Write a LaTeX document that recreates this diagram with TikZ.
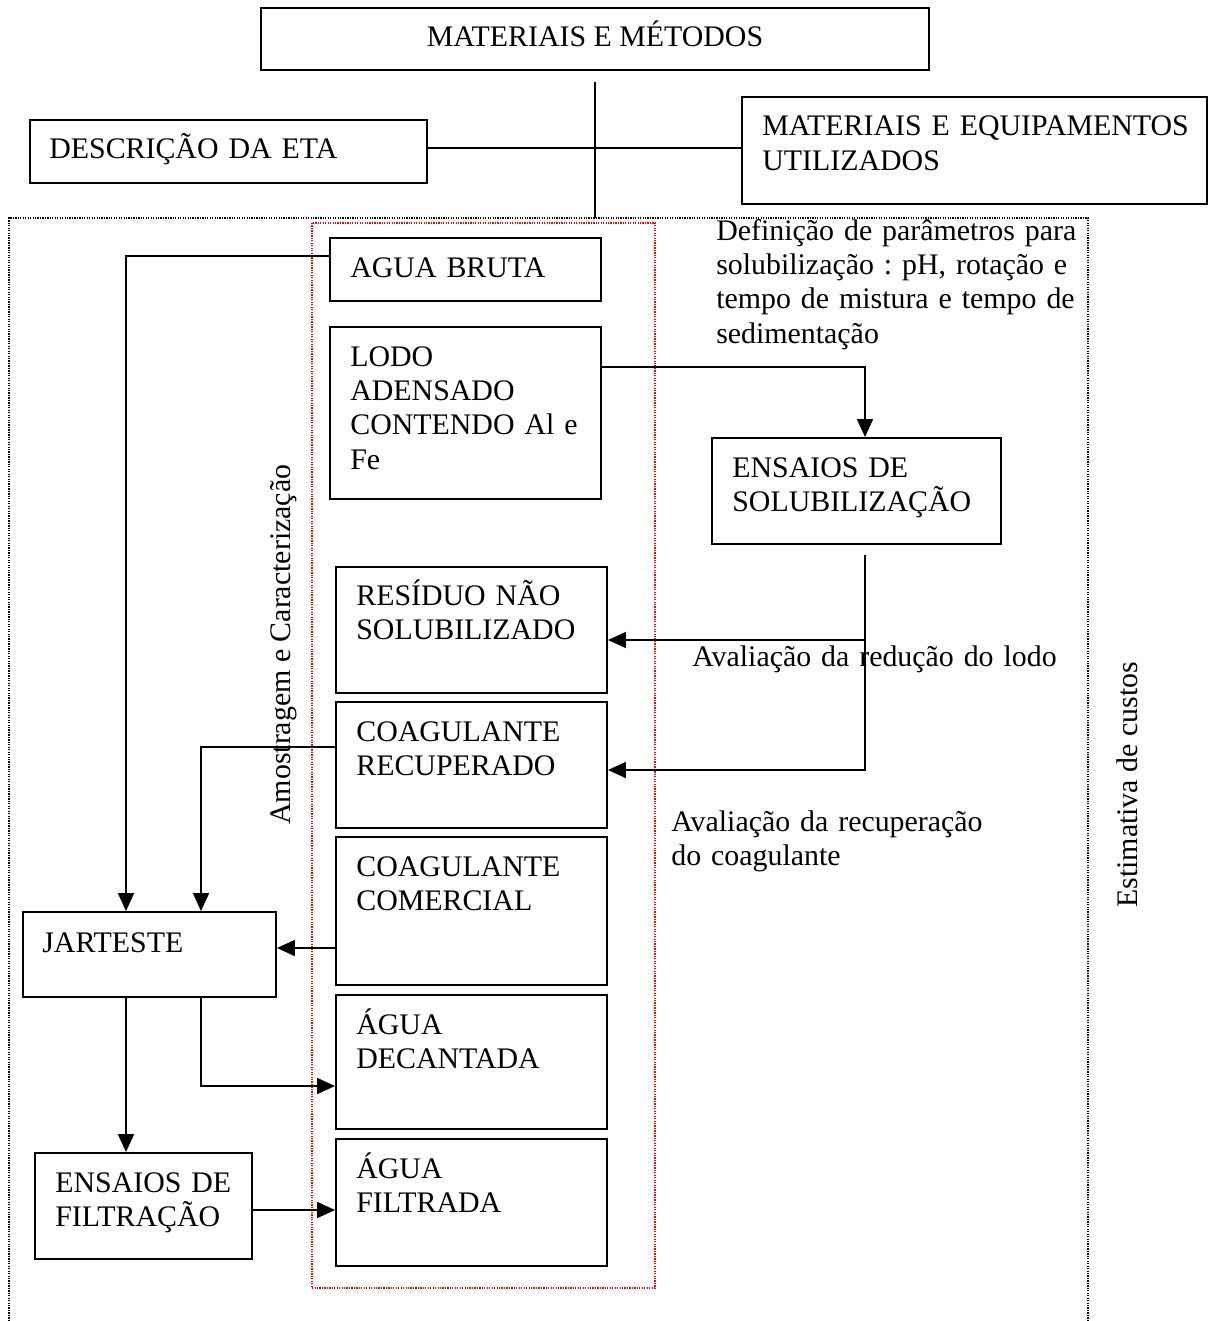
\documentclass[tikz,border=0pt]{standalone}
\usepackage{fontspec}
\setmainfont{Liberation Serif}
\usetikzlibrary{arrows.meta,fit}
\begin{document}
\begin{tikzpicture}[x=0.02cm,y=-0.02cm,
  font=\fontsize{17}{19.6}\selectfont\frenchspacing,
  box/.style={draw=black,line width=1.1pt,inner sep=0pt,fill=none},
  txt/.style={inner sep=0pt,anchor=base west,align=left,text width=12cm},
  ln/.style={line width=1.1pt},
  arr/.style={line width=1.1pt,-{Triangle[length=0.36cm,width=0.32cm]}},
  dots/.style={line width=0.7pt,dash pattern=on 0.7pt off 0.7pt}]
\useasboundingbox (0,0) rectangle (1209,1321);
% frames
\draw[dots] (9,1321) -- (9,218) -- (1088,218) -- (1088,1321);
\draw[dots,red] (312,223) rectangle (655,1288);
% top boxes
\node[box,fit={(261,8) (929,70)}] (mm) {};
\node[inner sep=0pt,anchor=base] (mmt) at (595,47) {MATERIAIS E MÉTODOS};
\node[box,fit={(30,120) (427,183)}] (desc) {};
\node[txt] (desct) at (49,159) {DESCRIÇÃO DA ETA};
\node[box,fit={(742,97) (1207,204)}] (meq) {};
\node[txt] (meqt) at (762,136) {MATERIAIS E EQUIPAMENTOS\\UTILIZADOS};
\coordinate (t1) at (595,82);
\coordinate (t2) at (595,218);
\draw[ln] (t1) -- (t2);
\draw[ln] (desc.east |- 0,148) -- (meq.west |- 0,148);
% inner column
\node[box,fit={(330,238) (601,301)}] (ab) {};
\node[txt] (abt) at (350,277) {AGUA BRUTA};
\node[box,fit={(330,327) (601,499)}] (lodo) {};
\node[txt] (lodot) at (350,366) {LODO\\ADENSADO\\CONTENDO Al e\\Fe};
\node[box,fit={(336,567) (607,693)}] (res) {};
\node[txt] (rest) at (356,605) {RESÍDUO NÃO\\SOLUBILIZADO};
\node[box,fit={(336,702) (607,828)}] (rec) {};
\node[txt] (rect) at (356,741) {COAGULANTE\\RECUPERADO};
\node[box,fit={(336,837) (607,985)}] (com) {};
\node[txt] (comt) at (356,876) {COAGULANTE\\COMERCIAL};
\node[box,fit={(336,995) (607,1129)}] (dec) {};
\node[txt] (dect) at (356,1034) {ÁGUA\\DECANTADA};
\node[box,fit={(336,1139) (607,1266)}] (filt) {};
\node[txt] (filtt) at (356,1178) {ÁGUA\\FILTRADA};
% right
\node[box,fit={(712,438) (1001,544)}] (sol) {};
\node[txt] (solt) at (732,477) {ENSAIOS DE\\SOLUBILIZAÇÃO};
\node[txt] (def) at (716,240) {Definição de parâmetros para\\solubilização : pH, rotação e\\tempo de mistura e tempo de\\sedimentação};
% left
\node[box,fit={(23,912) (276,997)}] (jar) {};
\node[txt] (jart) at (42,952) {JARTESTE};
\node[box,fit={(35,1153) (252,1259)}] (fil) {};
\node[txt] (filtx) at (55,1192) {ENSAIOS DE\\FILTRAÇÃO};
% labels
\node[inner sep=0pt,anchor=base west,rotate=90] (amo) at (290,825) {Amostragem e Caracterização};
\node[inner sep=0pt,anchor=base west,rotate=90] (est) at (1137,908) {Estimativa de custos};
% connectors
\draw[arr] (ab.west |- 0,256) -| (126,0 |- jar.north);
\draw[arr] (lodo.east |- 0,367) -| (865,0 |- sol.north);
\coordinate (s1) at (865,555);
\draw[arr] (s1) |- (rec.east |- 0,770);
\coordinate (s2) at (865,640);
\draw[arr] (s2) -- (res.east |- 0,640);
\node[txt] (avr) at (692,666) {Avaliação da redução do lodo};
\node[txt] (avc) at (671,831) {Avaliação da recuperação\\do coagulante};
\draw[arr] (rec.west |- 0,747) -| (201,0 |- jar.north);
\draw[arr] (com.west |- 0,948) -- (jar.east |- 0,948);
\draw[arr] (126,0 |- jar.south) -- (126,0 |- fil.north);
\draw[arr] (201,0 |- jar.south) |- (dec.west |- 0,1086);
\draw[arr] (fil.east |- 0,1210) -- (filt.west |- 0,1210);
\end{tikzpicture}
\end{document}
